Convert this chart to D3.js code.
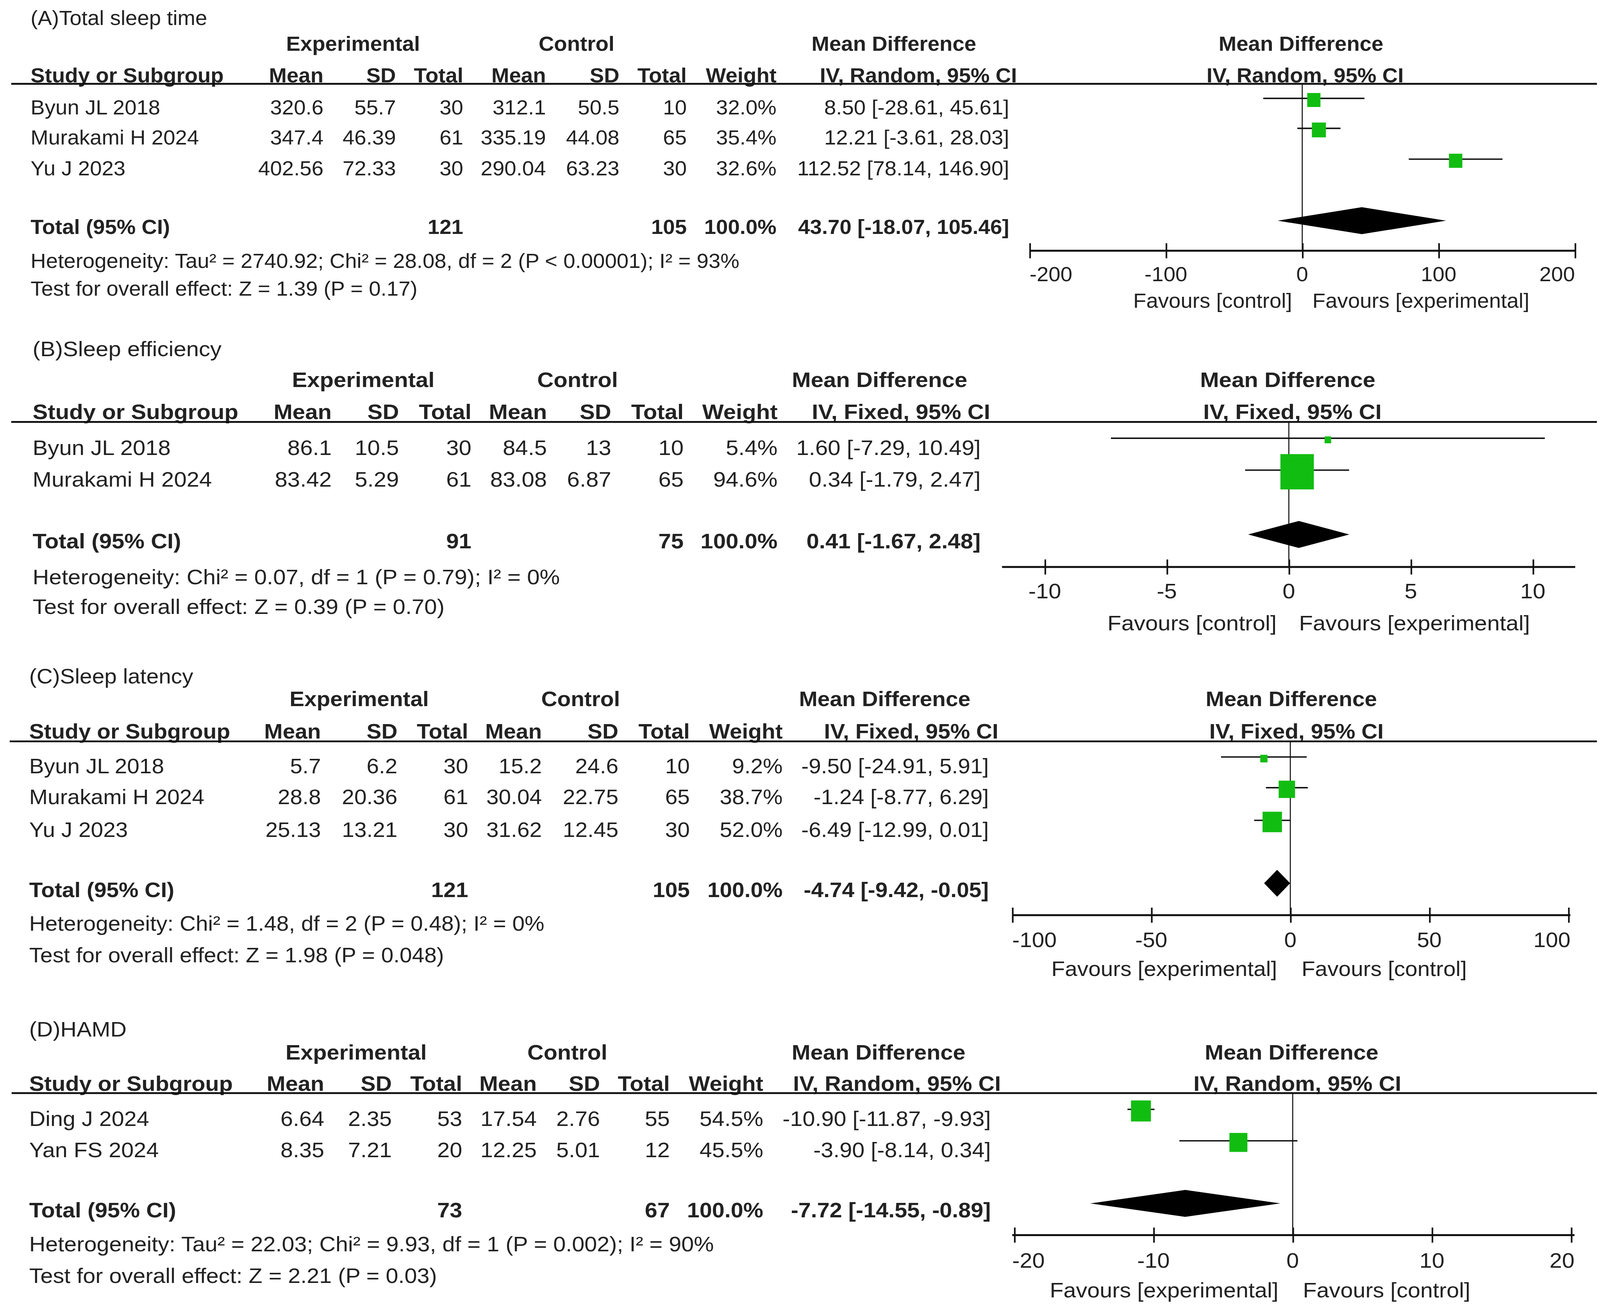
<!DOCTYPE html>
<html>
<head>
<meta charset="utf-8">
<script src="https://cdn.jsdelivr.net/npm/d3@7"></script>
<style>
  html, body { margin: 0; padding: 0; background: #ffffff; overflow: hidden; width: 100%; height: 100%; }
  svg { display: block; }
  text { font-family: "Liberation Sans", Arial, Helvetica, sans-serif; fill: #222; }
</style>
</head>
<body>
<div id="chart"></div>
<script>
// ---------------- DATA ----------------
const panelTitles = ["(A)Total sleep time", "(B)Sleep efficiency", "(C)Sleep latency", "(D)HAMD"];
const modelLabels = ["IV, Random, 95% CI", "IV, Fixed, 95% CI", "IV, Fixed, 95% CI", "IV, Random, 95% CI"];
const groupHeaders = ["Experimental", "Control", "Mean Difference"];
const columnHeaders = ["Study or Subgroup", "Mean", "SD", "Total", "Mean", "SD", "Total", "Weight"];
const totalLabel = "Total (95% CI)";
const totalWeight = "100.0%";

// Panel A – Total sleep time
const studiesA   = ["Byun JL 2018", "Murakami H 2024", "Yu J 2023"];
const expMeanA   = ["320.6", "347.4", "402.56"];
const expSDA     = ["55.7", "46.39", "72.33"];
const expNA      = [30, 61, 30];
const ctrlMeanA  = ["312.1", "335.19", "290.04"];
const ctrlSDA    = ["50.5", "44.08", "63.23"];
const ctrlNA     = [10, 65, 30];
const weightA    = [32.0, 35.4, 32.6];
const mdA        = [8.50, 12.21, 112.52];
const loA        = [-28.61, -3.61, 78.14];
const hiA        = [45.61, 28.03, 146.90];
const totalsA    = [121, 105];
const pooledA    = [43.70, -18.07, 105.46];
const hetA       = "Heterogeneity: Tau² = 2740.92; Chi² = 28.08, df = 2 (P < 0.00001); I² = 93%";
const testA      = "Test for overall effect: Z = 1.39 (P = 0.17)";
const ticksA     = [-200, -100, 0, 100, 200];
const favoursA   = ["Favours [control]", "Favours [experimental]"];

// Panel B – Sleep efficiency
const studiesB   = ["Byun JL 2018", "Murakami H 2024"];
const expMeanB   = ["86.1", "83.42"];
const expSDB     = ["10.5", "5.29"];
const expNB      = [30, 61];
const ctrlMeanB  = ["84.5", "83.08"];
const ctrlSDB    = ["13", "6.87"];
const ctrlNB     = [10, 65];
const weightB    = [5.4, 94.6];
const mdB        = [1.60, 0.34];
const loB        = [-7.29, -1.79];
const hiB        = [10.49, 2.47];
const totalsB    = [91, 75];
const pooledB    = [0.41, -1.67, 2.48];
const hetB       = "Heterogeneity: Chi² = 0.07, df = 1 (P = 0.79); I² = 0%";
const testB      = "Test for overall effect: Z = 0.39 (P = 0.70)";
const ticksB     = [-10, -5, 0, 5, 10];
const favoursB   = ["Favours [control]", "Favours [experimental]"];

// Panel C – Sleep latency
const studiesC   = ["Byun JL 2018", "Murakami H 2024", "Yu J 2023"];
const expMeanC   = ["5.7", "28.8", "25.13"];
const expSDC     = ["6.2", "20.36", "13.21"];
const expNC      = [30, 61, 30];
const ctrlMeanC  = ["15.2", "30.04", "31.62"];
const ctrlSDC    = ["24.6", "22.75", "12.45"];
const ctrlNC     = [10, 65, 30];
const weightC    = [9.2, 38.7, 52.0];
const mdC        = [-9.50, -1.24, -6.49];
const loC        = [-24.91, -8.77, -12.99];
const hiC        = [5.91, 6.29, 0.01];
const totalsC    = [121, 105];
const pooledC    = [-4.74, -9.42, -0.05];
const hetC       = "Heterogeneity: Chi² = 1.48, df = 2 (P = 0.48); I² = 0%";
const testC      = "Test for overall effect: Z = 1.98  (P = 0.048)";
const ticksC     = [-100, -50, 0, 50, 100];
const favoursC   = ["Favours [experimental]", "Favours [control]"];

// Panel D – HAMD
const studiesD   = ["Ding J 2024", "Yan FS 2024"];
const expMeanD   = ["6.64", "8.35"];
const expSDD     = ["2.35", "7.21"];
const expND      = [53, 20];
const ctrlMeanD  = ["17.54", "12.25"];
const ctrlSDD    = ["2.76", "5.01"];
const ctrlND     = [55, 12];
const weightD    = [54.5, 45.5];
const mdD        = [-10.90, -3.90];
const loD        = [-11.87, -8.14];
const hiD        = [-9.93, 0.34];
const totalsD    = [73, 67];
const pooledD    = [-7.72, -14.55, -0.89];
const hetD       = "Heterogeneity: Tau² = 22.03; Chi² = 9.93, df = 1 (P = 0.002); I² = 90%";
const testD      = "Test for overall effect: Z = 2.21 (P = 0.03)";
const ticksD     = [-20, -10, 0, 10, 20];
const favoursD   = ["Favours [experimental]", "Favours [control]"];

// ---------------- LAYOUT (positions / styles, in a 1568 x 1212 design space) ----------------
const W = 1568, H = 1212;
const SX = 1.13; // horizontal stretch of glyphs in the original image
const GREEN = "#12bd12";
const INK = "#111";

const layouts = [
  { fs: 18.5, title: 16.6, group: 40.7, header: 70, line: 77.8, rows: [99.8, 127.6, 156.2], total: 210.8, het: 242.2, test: 268,
    axisY: 232.7, tickLbl: 254.4, fav: 279, lineX0: 11, left: 30,
    cols: [317, 388, 454, 535, 607, 673, 761], ciRight: 989, ciHead: 900, grp: [346, 565, 876], rMD: 1275, rIV: 1279,
    tickRange: [1009, 1543.4], axisX: [1009, 1543.4], favGap: [10, 10], boxK: 1.8 },
  { fs: 19.7, title: 323.7, group: 352.4, header: 382, line: 391.6, rows: [415.2, 444.8], total: 502, het: 535.4, test: 563,
    axisY: 526.2, tickLbl: 548.4, fav: 578, lineX0: 11, left: 32,
    cols: [325, 391, 462, 536, 599, 670, 762], ciRight: 961, ciHead: 883, grp: [356, 566, 862], rMD: 1262, rIV: 1266.6,
    tickRange: [1023.9, 1502.2], axisX: [982, 1543.7], favGap: [12, 10], boxK: 2.45 },
  { fs: 19.25, title: 627.6, group: 648.5, header: 678.8, line: 688, rows: [711, 739.5, 769.8], total: 825.7, het: 857, test: 886.3,
    axisY: 849.3, tickLbl: 872, fav: 899, lineX0: 9.5, left: 28.6,
    cols: [314.5, 389.5, 458.8, 531, 606, 676, 767], ciRight: 969, ciHead: 893, grp: [352, 569, 867], rMD: 1265.5, rIV: 1270.5,
    tickRange: [992, 1537], axisX: [992, 1539], favGap: [13, 11], boxK: 2.0 },
  { fs: 19.5, title: 955, group: 976.3, header: 1005.4, line: 1014.4, rows: [1038, 1067.2], total: 1122.8, het: 1154.5, test: 1183.7,
    axisY: 1146.2, tickLbl: 1169.8, fav: 1197.3, lineX0: 11.4, left: 28.6,
    cols: [317.7, 384, 453, 526, 588, 656.4, 748], ciRight: 971, ciHead: 879, grp: [349, 556, 861], rMD: 1265.8, rIV: 1271.4,
    tickRange: [994, 1539.7], axisX: [992, 1543], favGap: [14, 10], boxK: 2.0 }
];

const panels = [
  { title: panelTitles[0], model: modelLabels[0], studies: studiesA, eM: expMeanA, eSD: expSDA, eN: expNA, cM: ctrlMeanA, cSD: ctrlSDA, cN: ctrlNA,
    w: weightA, md: mdA, lo: loA, hi: hiA, totals: totalsA, pooled: pooledA, het: hetA, test: testA, ticks: ticksA, fav: favoursA },
  { title: panelTitles[1], model: modelLabels[1], studies: studiesB, eM: expMeanB, eSD: expSDB, eN: expNB, cM: ctrlMeanB, cSD: ctrlSDB, cN: ctrlNB,
    w: weightB, md: mdB, lo: loB, hi: hiB, totals: totalsB, pooled: pooledB, het: hetB, test: testB, ticks: ticksB, fav: favoursB },
  { title: panelTitles[2], model: modelLabels[2], studies: studiesC, eM: expMeanC, eSD: expSDC, eN: expNC, cM: ctrlMeanC, cSD: ctrlSDC, cN: ctrlNC,
    w: weightC, md: mdC, lo: loC, hi: hiC, totals: totalsC, pooled: pooledC, het: hetC, test: testC, ticks: ticksC, fav: favoursC },
  { title: panelTitles[3], model: modelLabels[3], studies: studiesD, eM: expMeanD, eSD: expSDD, eN: expND, cM: ctrlMeanD, cSD: ctrlSDD, cN: ctrlND,
    w: weightD, md: mdD, lo: loD, hi: hiD, totals: totalsD, pooled: pooledD, het: hetD, test: testD, ticks: ticksD, fav: favoursD }
];

// ---------------- DRAW ----------------
const vw = document.documentElement.clientWidth || window.innerWidth || 4328;
const vh = document.documentElement.clientHeight || window.innerHeight || 3344;

const svg = d3.select("#chart").append("svg")
  .attr("width", vw).attr("height", vh)
  .attr("viewBox", `0 0 ${W} ${H}`)
  .attr("preserveAspectRatio", "none");
svg.append("rect").attr("width", W).attr("height", H).attr("fill", "#fff");

function T(g, x, y, s, fs, anchor = "start", bold = false) {
  return g.append("text")
    .attr("transform", `translate(${x},${y}) scale(${SX},1)`)
    .attr("dy", "0.35em")
    .attr("text-anchor", anchor)
    .attr("font-size", fs)
    .attr("font-weight", bold ? "bold" : "normal")
    .text(s);
}

const f2 = v => v.toFixed(2);   // ASCII hyphen-minus, as in the source
const f1 = v => v.toFixed(1);
const ciText = (m, l, h) => `${f2(m)} [${f2(l)}, ${f2(h)}]`;

panels.forEach((p, i) => {
  const L = layouts[i];
  const fs = L.fs;
  const g = svg.append("g");

  // titles and headers
  T(g, L.left, L.title, p.title, fs);
  T(g, L.grp[0], L.group, groupHeaders[0], fs, "middle", true);
  T(g, L.grp[1], L.group, groupHeaders[1], fs, "middle", true);
  T(g, L.grp[2], L.group, groupHeaders[2], fs, "middle", true);
  T(g, L.rMD, L.group, groupHeaders[2], fs, "middle", true);

  T(g, L.left, L.header, columnHeaders[0], fs, "start", true);
  columnHeaders.slice(1).forEach((h, k) => T(g, L.cols[k], L.header, h, fs, "end", true));
  T(g, L.ciHead, L.header, p.model, fs, "middle", true);
  T(g, L.rIV, L.header, p.model, fs, "middle", true);

  g.append("line").attr("x1", L.lineX0).attr("x2", W - 3)
    .attr("y1", L.line).attr("y2", L.line)
    .attr("stroke", INK).attr("stroke-width", 1.7);

  // study rows (table)
  p.studies.forEach((s, k) => {
    const y = L.rows[k];
    T(g, L.left, y, s, fs);
    const vals = [p.eM[k], p.eSD[k], p.eN[k], p.cM[k], p.cSD[k], p.cN[k], f1(p.w[k]) + "%"];
    vals.forEach((v, c) => T(g, L.cols[c], y, v, fs, "end"));
    T(g, L.ciRight, y, ciText(p.md[k], p.lo[k], p.hi[k]), fs, "end");
  });

  // total row
  T(g, L.left, L.total, totalLabel, fs, "start", true);
  T(g, L.cols[2], L.total, p.totals[0], fs, "end", true);
  T(g, L.cols[5], L.total, p.totals[1], fs, "end", true);
  T(g, L.cols[6], L.total, totalWeight, fs, "end", true);
  T(g, L.ciRight, L.total, ciText(p.pooled[0], p.pooled[1], p.pooled[2]), fs, "end", true);

  T(g, L.left, L.het, p.het, fs);
  T(g, L.left, L.test, p.test, fs);

  // forest plot
  const x = d3.scaleLinear()
    .domain(d3.extent(p.ticks))
    .range(L.tickRange);
  const box = d3.scalePow().exponent(0.57).domain([0, 100]).range([0, L.boxK * Math.pow(100, 0.57)]);

  // zero line
  g.append("line").attr("x1", x(0)).attr("x2", x(0))
    .attr("y1", L.line).attr("y2", L.axisY)
    .attr("stroke", INK).attr("stroke-width", 1);

  // CI lines and boxes
  const rowsData = p.studies.map((s, k) => ({ y: L.rows[k], md: p.md[k], lo: p.lo[k], hi: p.hi[k], w: p.w[k] }));
  g.selectAll(".ci").data(rowsData).enter().append("line")
    .attr("x1", d => x(d.lo)).attr("x2", d => x(d.hi))
    .attr("y1", d => d.y - 8.5).attr("y2", d => d.y - 8.5)
    .attr("stroke", INK).attr("stroke-width", 1.3);
  g.selectAll(".box").data(rowsData).enter().append("rect")
    .attr("x", d => x(d.md) - box(d.w) / 2)
    .attr("y", d => d.y - 7 - box(d.w) / 2)
    .attr("width", d => box(d.w)).attr("height", d => box(d.w))
    .attr("fill", GREEN);

  // diamond
  const dy = L.total - 6, hh = 12.5;
  g.append("path")
    .attr("d", `M${x(p.pooled[1])},${dy} L${x(p.pooled[0])},${dy - hh} L${x(p.pooled[2])},${dy} L${x(p.pooled[0])},${dy + hh} Z`)
    .attr("fill", "#000");

  // axis
  g.append("line").attr("x1", L.axisX[0]).attr("x2", L.axisX[1])
    .attr("y1", L.axisY).attr("y2", L.axisY)
    .attr("stroke", INK).attr("stroke-width", 1.8);
  const axG = g.append("g").attr("transform", `translate(0,${L.axisY})`)
    .call(d3.axisBottom(x).tickValues(p.ticks).tickSizeInner(7).tickSizeOuter(0).tickFormat(""));
  axG.select(".domain").remove();
  axG.selectAll(".tick line").attr("y1", -7).attr("y2", 7).attr("stroke", INK).attr("stroke-width", 1.6);

  p.ticks.forEach(t => {
    const lbl = T(g, x(t), L.tickLbl, String(t), fs, "middle");
    const wdt = lbl.node().getComputedTextLength() * SX;
    let cx = x(t);
    if (cx - wdt / 2 < L.axisX[0]) cx = L.axisX[0] + wdt / 2;
    if (cx + wdt / 2 > L.axisX[1]) cx = L.axisX[1] - wdt / 2;
    lbl.attr("transform", `translate(${cx},${L.tickLbl}) scale(${SX},1)`);
  });

  T(g, x(0) - L.favGap[0], L.fav, p.fav[0], fs, "end");
  T(g, x(0) + L.favGap[1], L.fav, p.fav[1], fs, "start");
});
</script>
</body>
</html>
